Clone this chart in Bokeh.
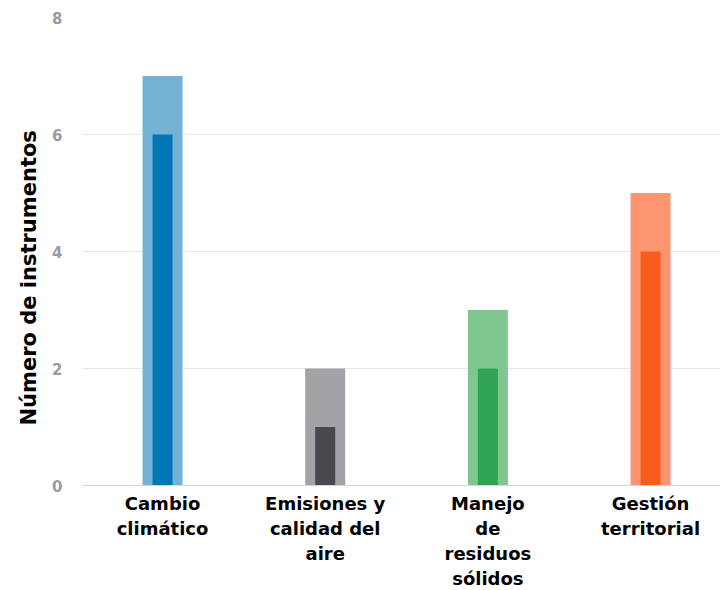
from bokeh.plotting import figure
from bokeh.models import ColumnDataSource, FixedTicker, Range1d, Title
from bokeh.embed import file_html
from bokeh.resources import INLINE

categories = ["Cambio\nclimático", "Emisiones y\ncalidad del\naire", "Manejo\nde\nresiduos\nsólidos", "Gestión\nterritorial"]
total_values = [7, 2, 3, 5]
inner_values = [6, 1, 2, 4]
inner_colors = ["#0077B5", "#48484F", "#31A354", "#FA5B1E"]
outer_colors = ["#75B3D6", "#A3A3A7", "#80C690", "#FC9570"]
y_ticks = [0, 2, 4, 6, 8]
y_title = "Número de instrumentos"

xs = list(range(len(categories)))
src = ColumnDataSource(dict(x=xs, total=total_values, inner=inner_values,
                            inner_color=inner_colors, outer_color=outer_colors))

FONT = "DejaVu Sans"

p = figure(frame_width=638, frame_height=468, output_backend="svg", toolbar_location=None,
           x_range=Range1d(-0.492, 3.43), y_range=Range1d(0, 8),
           min_border_left=82, min_border_right=0, min_border_top=17, min_border_bottom=80)
p.outline_line_color = None
p.background_fill_color = "white"
p.border_fill_color = "white"

p.vbar(x="x", top="total", width=0.246, fill_color="outer_color", line_color=None, source=src)
p.vbar(x="x", top="inner", width=0.123, fill_color="inner_color", line_color=None, source=src)

p.xgrid.grid_line_color = None
p.ygrid.grid_line_color = "#e6e6e6"
p.ygrid.grid_line_width = 1

p.yaxis.ticker = FixedTicker(ticks=y_ticks)
p.yaxis.axis_line_color = None
p.yaxis.major_tick_line_color = None
p.yaxis.minor_tick_line_color = None
p.yaxis.major_label_text_color = "#9a9aa6"
p.yaxis.major_label_text_font = FONT
p.yaxis.major_label_text_font_style = "bold"
p.yaxis.major_label_text_font_size = "15px"
p.yaxis.major_label_standoff = 14

p.add_layout(Title(text=y_title, align="left", offset=60, standoff=17,
                   text_font=FONT, text_font_style="bold", text_font_size="21px",
                   text_color="#000000"), "left")

p.xaxis.ticker = FixedTicker(ticks=xs)
p.xaxis.major_label_overrides = {i: c for i, c in zip(xs, categories)}
p.xaxis.axis_line_color = "#ccd6eb"
p.xaxis.major_tick_line_color = None
p.xaxis.minor_tick_line_color = None
p.xaxis.major_label_text_font = FONT
p.xaxis.major_label_text_font_style = "bold"
p.xaxis.major_label_text_font_size = "18px"
p.xaxis.major_label_text_color = "#000000"
p.xaxis.major_label_text_line_height = 1.2
p.xaxis.major_label_standoff = 1

open("out.html", "w").write(file_html(p, INLINE))
